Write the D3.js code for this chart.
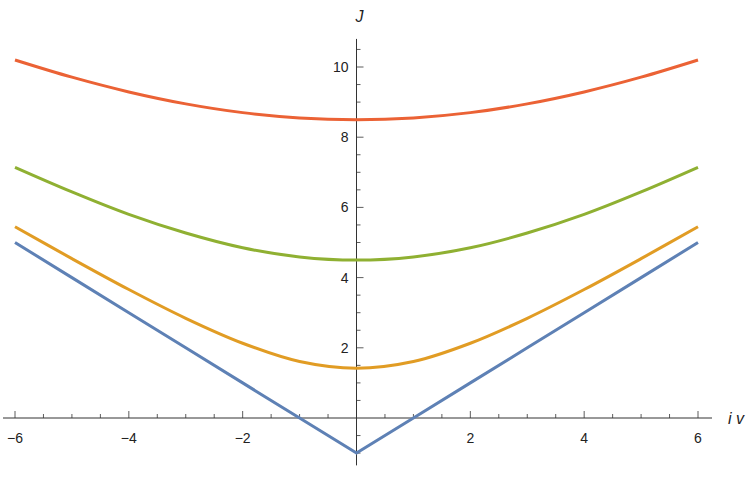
<!DOCTYPE html>
<html><head><meta charset="utf-8">
<script src="https://cdn.jsdelivr.net/npm/d3@7"></script>
<style>body{margin:0;background:#fff}text{font-family:"Liberation Sans",Arial,sans-serif;fill:#222}</style>
</head><body><svg id="c" width="747" height="480"></svg>
<script>
const xs = [-6,-5,-4,-3,-2,-1,0,1,2,3,4,5,6];
const blue = [5,4,3,2,1,0,-1,0,1,2,3,4,5];
const orange = [5.45,4.54,3.66,2.84,2.13,1.61,1.42,1.61,2.13,2.84,3.66,4.54,5.45];
const green = [7.14,6.44,5.80,5.27,4.85,4.59,4.5,4.59,4.85,5.27,5.80,6.44,7.14];
const red = [10.2,9.71,9.29,8.95,8.70,8.55,8.5,8.55,8.70,8.95,9.29,9.71,10.2];
const xTicks = [-6,-4,-2,2,4,6];
const yTicks = [2,4,6,8,10];
const series = [{v:blue,c:"#5E81B5",lin:true},{v:orange,c:"#E19C24"},{v:green,c:"#8FB032"},{v:red,c:"#EB6235"}];

const svg = d3.select("#c");
const x = d3.scaleLinear().domain([-6,6]).range([15,698]);
const y = d3.scaleLinear().domain([0,10]).range([418,67]);
const g = svg.append("g");
g.append("line").attr("x1",3).attr("x2",712).attr("y1",y(0)).attr("y2",y(0)).attr("stroke","#333");
g.append("line").attr("x1",x(0)).attr("x2",x(0)).attr("y1",y(-1.35)).attr("y2",y(10.8)).attr("stroke","#333");
for(let k=-12;k<=12;k++){const tt=k/2;if(k===0)continue;const maj=k%4===0;
 g.append("line").attr("x1",x(tt)).attr("x2",x(tt)).attr("y1",y(0)).attr("y2",y(0)-(maj?7:4)).attr("stroke","#333").attr("stroke-width",0.8);}
for(let k=-2;k<=21;k++){const tt=k/2;if(k===0)continue;const maj=k%4===0;
 g.append("line").attr("y1",y(tt)).attr("y2",y(tt)).attr("x1",x(0)).attr("x2",x(0)+(maj?7:4)).attr("stroke","#333").attr("stroke-width",0.8);}
xTicks.forEach(t=>g.append("text").attr("x",x(t)).attr("y",y(0)+25).attr("text-anchor","middle").attr("font-size",14).text(t<0?"\u2212"+(-t):t));
yTicks.forEach(t=>g.append("text").attr("x",x(0)-8).attr("y",y(t)+5).attr("text-anchor","end").attr("font-size",14).text(t));
g.append("text").attr("x",728).attr("y",y(0)+6).attr("font-size",16).attr("font-style","italic").text("i v");
g.append("text").attr("x",x(0)+3).attr("y",22).attr("font-size",16).attr("font-style","italic").attr("text-anchor","middle").text("J");
series.forEach(s=>{
 const line=d3.line().x((d,i)=>x(xs[i])).y(d=>y(d)).curve(s.lin?d3.curveLinear:d3.curveCatmullRom);
 g.append("path").attr("d",line(s.v)).attr("fill","none").attr("stroke",s.c).attr("stroke-width",3);
});
</script></body></html>
